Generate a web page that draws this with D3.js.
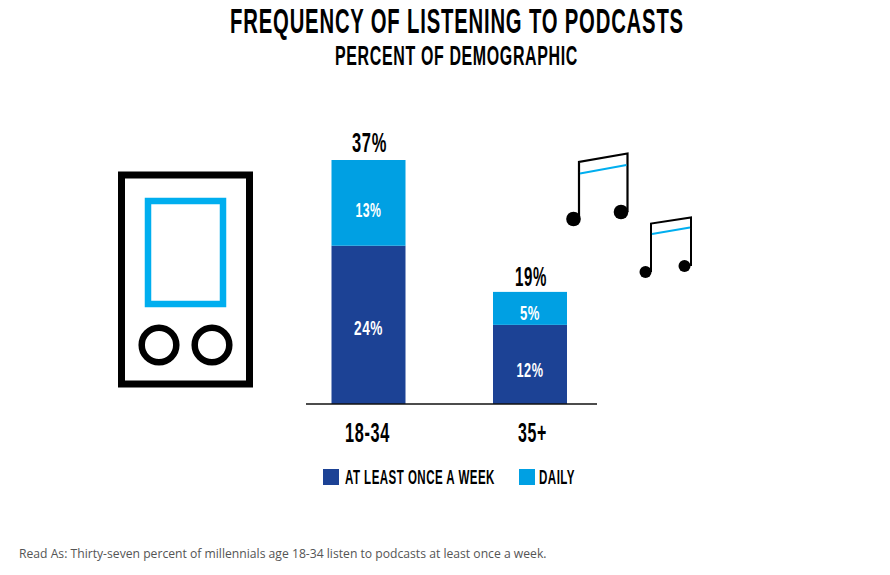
<!DOCTYPE html>
<html><head><meta charset="utf-8">
<script src="https://cdn.jsdelivr.net/npm/d3@7"></script>
<style>html,body{margin:0;padding:0;background:#fff}svg{display:block}</style>
</head><body><svg id="c" width="890" height="575"></svg>
<script>
const categories = ["18-34", "35+"];
const weekly = [24, 12];
const daily = [13, 5];
const totalLabels = ["37%", "19%"];
const seriesNames = ["AT LEAST ONCE A WEEK", "DAILY"];
const colors = ["#1c4295", "#00a0e3"];

const svg = d3.select("#c");
const COND = "'Liberation Sans Narrow','Liberation Sans',sans-serif";
// Draws condensed display text: measured, then squeezed to the wanted width.
function label(x, y, str, size, width, fill, anchor) {
  const t = svg.append("text").text(str)
    .attr("font-family", COND).attr("font-size", size).attr("font-weight", "bold")
    .attr("letter-spacing", "0.04em")
    .attr("fill", fill || "#000").attr("text-anchor", anchor || "middle");
  const sx = width / t.node().getComputedTextLength();
  t.attr("transform", `translate(${x},${y}) scale(${sx},1)`);
  return t;
}

const y = d3.scaleLinear().domain([0, 37]).range([404, 160]);
const x = d3.scaleBand().domain(categories).range([331.5, 567]).paddingInner(0.5418).paddingOuter(0);
const stack = d3.stack().keys([0, 1]).value((d, k) => d[k]);
const rows = categories.map((c, i) => Object.assign([weekly[i], daily[i]], {cat: c}));
const barLabelY = [[335, 377], [217, 320]];
const barLabelW = [[29, 27], [26, 20]];
stack(rows).forEach((layer, k) => {
  svg.append("g").selectAll("rect").data(layer).join("rect")
    .attr("x", d => x(d.data.cat)).attr("width", x.bandwidth())
    .attr("y", d => y(d[1])).attr("height", d => y(d[0]) - y(d[1]))
    .attr("fill", colors[k]);
  layer.forEach((d, i) => {
    const v = k === 0 ? weekly[i] : daily[i];
    label(x(d.data.cat) + x.bandwidth() / 2, barLabelY[k][i], v + "%", 21, barLabelW[k][i], "#fff");
  });
});
// totals
label(369.5, 152, totalLabels[0], 27, 35);
label(531, 286, totalLabels[1], 27, 32);
// axis
svg.append("line").attr("x1", 306).attr("x2", 597).attr("y1", 404).attr("y2", 404).attr("stroke", "#111").attr("stroke-width", 1.6);
// category labels
label(367.5, 442, categories[0], 27, 45);
label(532.5, 442, categories[1], 27, 29);
// titles
label(457, 32.5, "FREQUENCY OF LISTENING TO PODCASTS", 35, 454);
label(456.5, 65, "PERCENT OF DEMOGRAPHIC", 28.5, 243);
// legend
svg.append("rect").attr("x", 323).attr("y", 469).attr("width", 16).attr("height", 16).attr("fill", colors[0]);
label(345, 484, seriesNames[0], 20.5, 150, "#000", "start");
svg.append("rect").attr("x", 519).attr("y", 469).attr("width", 16).attr("height", 16).attr("fill", colors[1]);
label(539, 484, seriesNames[1], 20.5, 36, "#000", "start");
// footer
svg.append("text").attr("x", 19).attr("y", 558).text("Read As: Thirty-seven percent of millennials age 18-34 listen to podcasts at least once a week.")
  .attr("font-family", "'Open Sans',sans-serif").attr("font-size", 12.17).attr("fill", "#555");

// player icon
const icon = svg.append("g").attr("fill", "none");
icon.append("rect").attr("x", 121.5).attr("y", 175).attr("width", 128).attr("height", 209).attr("stroke", "#000").attr("stroke-width", 7);
icon.append("rect").attr("x", 148).attr("y", 201).attr("width", 75).attr("height", 103).attr("stroke", "#00aeef").attr("stroke-width", 6.5);
[159, 212].forEach(cx => icon.append("circle").attr("cx", cx).attr("cy", 345).attr("r", 17.3).attr("stroke", "#000").attr("stroke-width", 6.5));

// music notes
const notes = svg.append("g");
function note(lx, rx, lt, rt, lb, rb, r, bl, br, sw) {
  notes.append("path").attr("fill", "none").attr("stroke", "#000").attr("stroke-width", sw)
    .attr("d", `M${lx},${lb}L${lx},${lt}L${rx},${rt}L${rx},${rb}`);
  notes.append("line").attr("x1", lx + 1).attr("x2", rx - 1).attr("y1", bl).attr("y2", br).attr("stroke", "#00aeef").attr("stroke-width", 2);
  notes.append("circle").attr("cx", lx - 5.5).attr("cy", lb).attr("r", r);
  notes.append("circle").attr("cx", rx - 6.5).attr("cy", rb).attr("r", r);
}
note(579, 627.5, 162, 153.5, 219, 212, 7.3, 173.5, 165, 2.2);
note(651, 691, 223.5, 217.5, 272, 266, 6, 234, 227.5, 2);
</script></body></html>
